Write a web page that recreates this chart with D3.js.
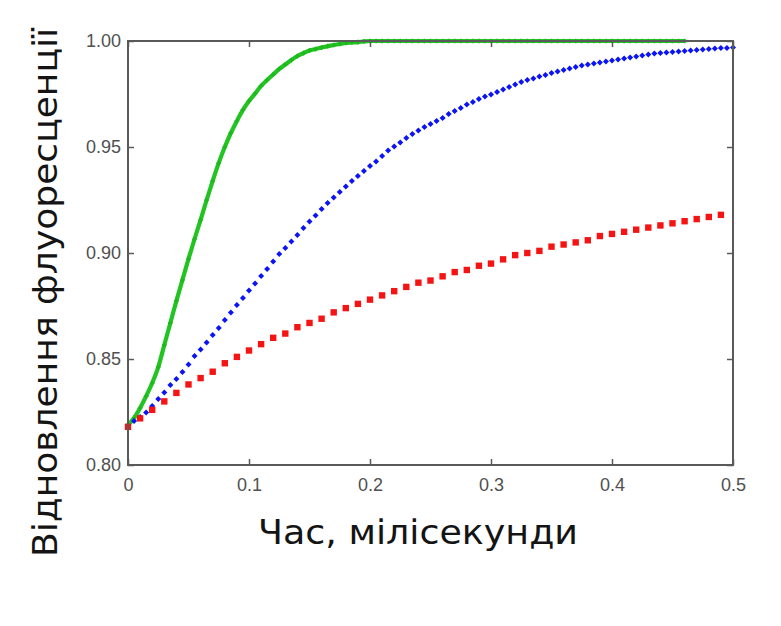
<!DOCTYPE html>
<html>
<head>
<meta charset="utf-8">
<script src="https://cdn.jsdelivr.net/npm/d3@7/dist/d3.min.js"></script>
<style>
  html, body { margin: 0; padding: 0; background: #fff; }
  svg { display: block; }
</style>
</head>
<body>
<script>
// ---- data ----
const xTicks = [0, 0.1, 0.2, 0.3, 0.4, 0.5];
const yTicks = [0.80, 0.85, 0.90, 0.95, 1.00];
const xTitle = "Час, мілісекунди";
const yTitle = "Відновлення флуоресценції";

// red series: t = 0 .. 0.49 step 0.01
const redStep = 0.01;
const redValues = [
  0.818, 0.822, 0.826, 0.830, 0.834, 0.838, 0.841, 0.844, 0.848, 0.851,
  0.854, 0.857, 0.860, 0.862, 0.865, 0.867, 0.869, 0.872, 0.874, 0.876,
  0.878, 0.880, 0.882, 0.884, 0.886, 0.887, 0.889, 0.891, 0.892, 0.894,
  0.895, 0.897, 0.899, 0.900, 0.901, 0.903, 0.904, 0.905, 0.906, 0.908,
  0.909, 0.910, 0.911, 0.912, 0.913, 0.914, 0.915, 0.916, 0.917, 0.918
];

// blue series: t = 0 .. 0.5 step 0.005
const blueStep = 0.005;
const blueValues = [
  0.8184, 0.8208, 0.8226, 0.8248, 0.8278, 0.8311, 0.8342, 0.8377, 0.8406, 0.8439,
  0.8474, 0.8514, 0.8545, 0.8578, 0.8613, 0.8646, 0.8684, 0.8719, 0.8755, 0.8788,
  0.8823, 0.8856, 0.8892, 0.8925, 0.8960, 0.8995, 0.9024, 0.9054, 0.9085, 0.9118,
  0.9149, 0.9177, 0.9208, 0.9236, 0.9262, 0.9288, 0.9314, 0.9340, 0.9363, 0.9387,
  0.9410, 0.9432, 0.9458, 0.9483, 0.9502, 0.9521, 0.9542, 0.9561, 0.9578, 0.9594,
  0.9608, 0.9623, 0.9637, 0.9656, 0.9670, 0.9684, 0.9700, 0.9712, 0.9726, 0.9738,
  0.9748, 0.9759, 0.9771, 0.9783, 0.9795, 0.9807, 0.9816, 0.9823, 0.9833, 0.9840,
  0.9849, 0.9856, 0.9863, 0.9870, 0.9877, 0.9884, 0.9889, 0.9894, 0.9899, 0.9903,
  0.9908, 0.9913, 0.9917, 0.9922, 0.9927, 0.9932, 0.9936, 0.9941, 0.9943, 0.9946,
  0.9948, 0.9950, 0.9953, 0.9955, 0.9958, 0.9960, 0.9962, 0.9965, 0.9967, 0.9967,
  0.9969
];

// green series: t = 0 .. 0.46 step 0.005
const greenStep = 0.005;
const greenValues = [
  0.8189, 0.8222, 0.8269, 0.8325, 0.8387, 0.8462, 0.8566, 0.8670, 0.8774, 0.8873,
  0.8972, 0.9066, 0.9156, 0.9250, 0.9340, 0.9425, 0.9500, 0.9566, 0.9623, 0.9675,
  0.9717, 0.9752, 0.9788, 0.9816, 0.9842, 0.9868, 0.9889, 0.9910, 0.9929, 0.9943,
  0.9955, 0.9962, 0.9969, 0.9976, 0.9981, 0.9986, 0.9991, 0.9993, 0.9995, 0.9998,
  1.0000, 1.0000, 1.0000, 1.0000, 1.0000, 1.0000, 1.0000, 1.0000, 1.0000, 1.0000,
  1.0000, 1.0000, 1.0000, 1.0000, 1.0000, 1.0000, 1.0000, 1.0000, 1.0000, 1.0000,
  1.0000, 1.0000, 1.0000, 1.0000, 1.0000, 1.0000, 1.0000, 1.0000, 1.0000, 1.0000,
  1.0000, 1.0000, 1.0000, 1.0000, 1.0000, 1.0000, 1.0000, 1.0000, 1.0000, 1.0000,
  1.0000, 1.0000, 1.0000, 1.0000, 1.0000, 1.0000, 1.0000, 1.0000, 1.0000, 1.0000,
  1.0000, 1.0000, 1.0000
];

// ---- layout ----
const W = 781, H = 626;
const mLeft = 128, mRight = 733, mTop = 41, mBottom = 465;
const axisColor = "#5a5a5a";
const tickFont = "18px 'Liberation Sans', Arial, sans-serif";
const titleFamily = "'DejaVu Sans', sans-serif";

const svg = d3.select("body").append("svg")
  .attr("width", W).attr("height", H)
  .style("background", "#fff");

const x = d3.scaleLinear().domain([0, 0.5]).range([mLeft, mRight]);
const y = d3.scaleLinear().domain([0.8, 1.0]).range([mBottom, mTop]);

const toPts = (vals, step) => vals.map((v, i) => ({ t: i * step, v }));
const red = toPts(redValues, redStep);
const blue = toPts(blueValues, blueStep);
const green = toPts(greenValues, greenStep);

// ---- series ----
const plot = svg.append("g");

plot.append("path")
  .datum(green)
  .attr("fill", "none")
  .attr("stroke", "#22c422")
  .attr("stroke-width", 4.2)
  .attr("stroke-linejoin", "round")
  .attr("stroke-linecap", "round")
  .attr("d", d3.line().curve(d3.curveMonotoneX).x(d => x(d.t)).y(d => y(d.v)));

plot.append("g").selectAll("path")
  .data(green)
  .join("path")
  .attr("transform", d => `translate(${x(d.t)},${y(d.v)})`)
  .attr("d", d3.symbol().type(d3.symbolCross).size(12))
  .attr("fill", "#1db81d");

plot.append("g").selectAll("path")
  .data(blue)
  .join("path")
  .attr("transform", d => `translate(${x(d.t)},${y(d.v)}) rotate(45)`)
  .attr("d", d3.symbol().type(d3.symbolSquare).size(18))
  .attr("fill", "#0a14f5");

plot.append("g").selectAll("rect")
  .data(red)
  .join("rect")
  .attr("x", d => x(d.t) - 3.2)
  .attr("y", d => y(d.v) - 3.2)
  .attr("width", 6.4)
  .attr("height", 6.4)
  .attr("fill", "#f51414");

// ---- frame & axes ----
svg.append("rect")
  .attr("x", mLeft).attr("y", mTop)
  .attr("width", mRight - mLeft).attr("height", mBottom - mTop)
  .attr("fill", "none")
  .attr("stroke", axisColor)
  .attr("stroke-width", 2);

const xFmt = d => d === 0 ? "0" : d3.format(".1f")(d);
const yFmt = d3.format(".2f");

const gx = svg.append("g")
  .attr("transform", `translate(0,${mBottom})`)
  .call(d3.axisBottom(x).tickValues(xTicks).tickFormat(xFmt)
    .tickSizeInner(-6).tickSizeOuter(0).tickPadding(13));
const gxTop = svg.append("g")
  .attr("transform", `translate(0,${mTop})`)
  .call(d3.axisTop(x).tickValues(xTicks).tickFormat("")
    .tickSizeInner(-6).tickSizeOuter(0));
const gy = svg.append("g")
  .attr("transform", `translate(${mLeft},0)`)
  .call(d3.axisLeft(y).tickValues(yTicks).tickFormat(yFmt)
    .tickSizeInner(-6).tickSizeOuter(0).tickPadding(7));
const gyR = svg.append("g")
  .attr("transform", `translate(${mRight},0)`)
  .call(d3.axisRight(y).tickValues(yTicks).tickFormat("")
    .tickSizeInner(-6).tickSizeOuter(0));

[gx, gxTop, gy, gyR].forEach(g => {
  g.select(".domain").remove();
  g.selectAll(".tick line").attr("stroke", axisColor).attr("stroke-width", 1.5);
  g.selectAll(".tick text")
    .attr("fill", "#505050")
    .style("font", tickFont);
});

// ---- titles ----
svg.append("text")
  .attr("x", 418).attr("y", 544)
  .attr("text-anchor", "middle")
  .attr("fill", "#141414")
  .attr("textLength", 320)
  .attr("lengthAdjust", "spacingAndGlyphs")
  .style("font-family", titleFamily)
  .style("font-weight", 400)
  .style("font-size", "34px")
  .text(xTitle);

svg.append("text")
  .attr("transform", "translate(57,292.5) rotate(-90)")
  .attr("text-anchor", "middle")
  .attr("fill", "#141414")
  .attr("textLength", 529)
  .attr("lengthAdjust", "spacingAndGlyphs")
  .style("font-family", titleFamily)
  .style("font-weight", 400)
  .style("font-size", "34px")
  .text(yTitle);
</script>
</body>
</html>
